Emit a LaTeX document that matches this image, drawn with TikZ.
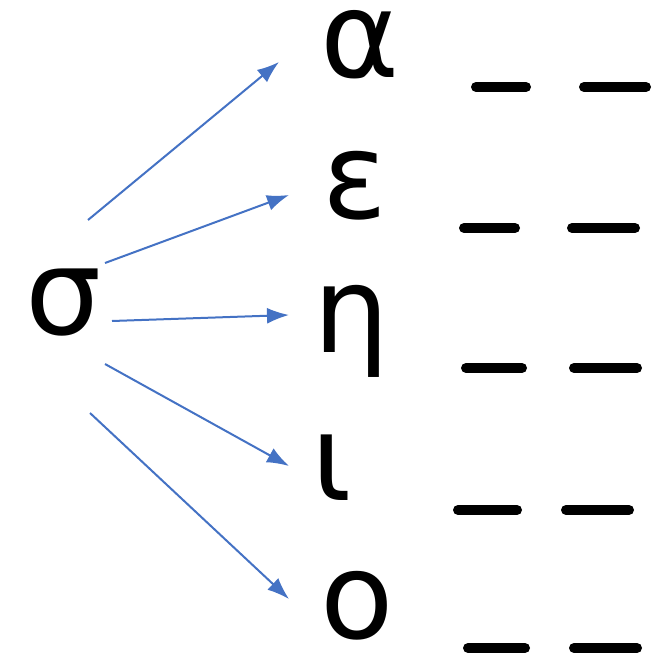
\documentclass[tikz,border=0pt]{standalone}
\usepackage{fontspec}
\setmainfont{DejaVu Sans}
\usetikzlibrary{arrows.meta}
\definecolor{arrowblue}{HTML}{4472C4}
\tikzset{
  letter/.style={inner sep=0pt, anchor=base, font=\fontsize{120}{120}\selectfont},
  blank/.style={line width=10pt, line cap=round, black},
  link/.style={arrowblue, line width=2pt, -{Latex[length=22pt,width=16pt]}}
}
\begin{document}
\begin{tikzpicture}[x=1pt,y=-1pt]
\useasboundingbox (0,0) rectangle (663,658);
\node[letter] (sigma) at (64,334) {σ};
\node[letter] (alpha) at (360,78) {α};
\node[letter] (eps) at (355,218) {ε};
\node[letter] (eta) at (352,352) {η};
\node[letter] (iota) at (332,500) {ι};
\node[letter] (omi) at (357,638) {ο};
% arrow end points
\coordinate (s1) at (88,220);  \coordinate (t1) at (279,62);
\coordinate (s2) at (105,263); \coordinate (t2) at (289,195);
\coordinate (s3) at (112,321); \coordinate (t3) at (289,315);
\coordinate (s4) at (105,364); \coordinate (t4) at (289,466);
\coordinate (s5) at (90,413);  \coordinate (t5) at (289,599);
\draw[link] (s1) -- (t1);
\draw[link] (s2) -- (t2);
\draw[link] (s3) -- (t3);
\draw[link] (s4) -- (t4);
\draw[link] (s5) -- (t5);
% blanks
\coordinate (b1a) at (476,87);  \coordinate (b1b) at (526,87);
\coordinate (b1c) at (584,87);  \coordinate (b1d) at (646,87);
\coordinate (b2a) at (464,228); \coordinate (b2b) at (515,228);
\coordinate (b2c) at (572,228); \coordinate (b2d) at (635,228);
\coordinate (b3a) at (466,368); \coordinate (b3b) at (522,368);
\coordinate (b3c) at (574,368); \coordinate (b3d) at (637,368);
\coordinate (b4a) at (458,510); \coordinate (b4b) at (517,510);
\coordinate (b4c) at (566,510); \coordinate (b4d) at (629,510);
\coordinate (b5a) at (468,648); \coordinate (b5b) at (525,648);
\coordinate (b5c) at (574,648); \coordinate (b5d) at (637,648);
\draw[blank] (b1a) -- (b1b) (b1c) -- (b1d);
\draw[blank] (b2a) -- (b2b) (b2c) -- (b2d);
\draw[blank] (b3a) -- (b3b) (b3c) -- (b3d);
\draw[blank] (b4a) -- (b4b) (b4c) -- (b4d);
\draw[blank] (b5a) -- (b5b) (b5c) -- (b5d);
\end{tikzpicture}
\end{document}
